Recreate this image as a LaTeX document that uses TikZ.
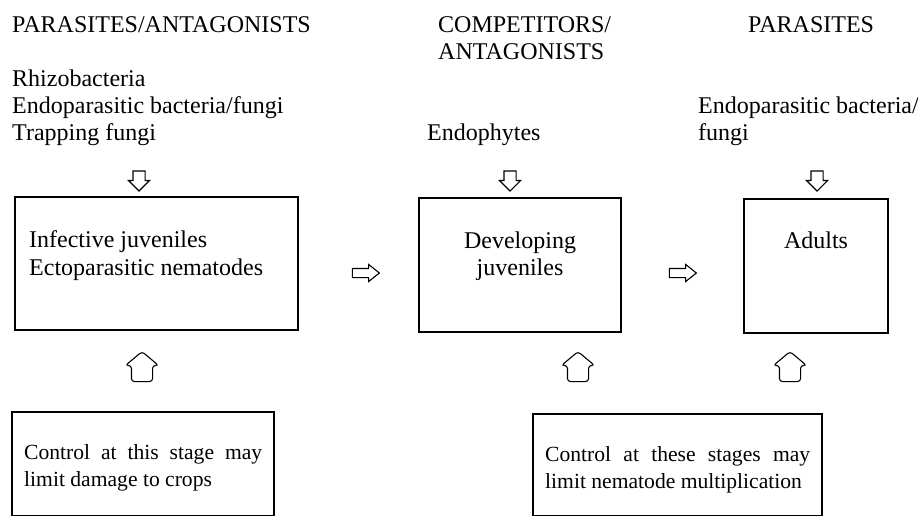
\documentclass[tikz,border=0pt]{standalone}
\usepackage{fontspec}
\setmainfont{Liberation Serif}
\usetikzlibrary{shapes.arrows}

\tikzset{
	txt/.style = {inner sep=0pt, anchor=base west, font=\fontsize{24}{27}\selectfont},
	boxtxt/.style = {inner sep=0pt, anchor=base west, font=\fontsize{24}{28}\selectfont},
	notetxt/.style = {inner sep=0pt, font=\fontsize{21.6}{27}\selectfont},
	stagebox/.style = {line width=1.3pt},
	blockarrow/.style = {single arrow, draw, line width=1.1pt, single arrow head indent=0pt},
	downarrow/.style = {blockarrow, minimum height=20pt, inner sep=5.5pt,
		single arrow head extend=4.5pt, shape border rotate=270},
	rightarrow/.style = {blockarrow, minimum height=27pt, inner sep=4pt,
		single arrow head extend=4pt, single arrow tip angle=77},
	uparrow/.style = {blockarrow, minimum height=25pt, inner sep=10pt,
		single arrow head extend=6pt, single arrow tip angle=100,
		rounded corners=3pt, shape border rotate=90},
}

\begin{document}
\begin{tikzpicture}[x=1pt, y=-1pt]
	\useasboundingbox (0,0) rectangle (918,516);

	% column headings
	\node [txt] (headA) at (12,33) {PARASITES/ANTAGONISTS};
	\node [txt] (headB) at (438,33) {COMPETITORS/};
	\node [txt] (headBb) at (438,60) {ANTAGONISTS};
	\node [txt] (headC) at (748,33) {PARASITES};

	% agents acting on each stage
	\node [txt] (rhizo) at (12,87) {Rhizobacteria};
	\node [txt] (endoA) at (12,114) {Endoparasitic bacteria/fungi};
	\node [txt] (trap) at (12,141) {Trapping fungi};
	\node [txt] (endoph) at (427,141) {Endophytes};
	\node [txt] (endoC) at (698,114) {Endoparasitic bacteria/};
	\node [txt] (endoCb) at (698,141) {fungi};

	\node [downarrow] (inA) at (139,178) {};
	\node [downarrow] (inB) at (510,178) {};
	\node [downarrow] (inC) at (817,178) {};

	% life stages
	\draw [stagebox] (15,197) rectangle (298,330);
	\draw [stagebox] (419,198) rectangle (621,332);
	\draw [stagebox] (744,199) rectangle (888,333);
	\node [boxtxt] (infA) at (29,247) {Infective juveniles};
	\node [boxtxt] (infB) at (29,275) {Ectoparasitic nematodes};
	\node [boxtxt, anchor=base] (devA) at (520,248) {Developing};
	\node [boxtxt, anchor=base] (devB) at (520,275) {juveniles};
	\node [boxtxt, anchor=base] (adult) at (816,248) {Adults};

	\node [rightarrow] (stepA) at (363,273) {};
	\node [rightarrow] (stepB) at (680,273) {};

	\node [uparrow] (ctlA) at (142,371) {};
	\node [uparrow] (ctlB) at (578,371) {};
	\node [uparrow] (ctlC) at (790,371) {};

	% control notes
	\draw [stagebox] (12,412) rectangle (274,516);
	\draw [stagebox] (533,414) rectangle (822,516);
	\node [notetxt, text width=238pt, align=justify, anchor=north west] (noteA) at (24,444)
		{Control at this stage may limit damage to crops};
	\node [notetxt, text width=265pt, align=justify, anchor=north west] (noteB) at (545,446)
		{Control at these stages may limit nematode multiplication};
\end{tikzpicture}
\end{document}
